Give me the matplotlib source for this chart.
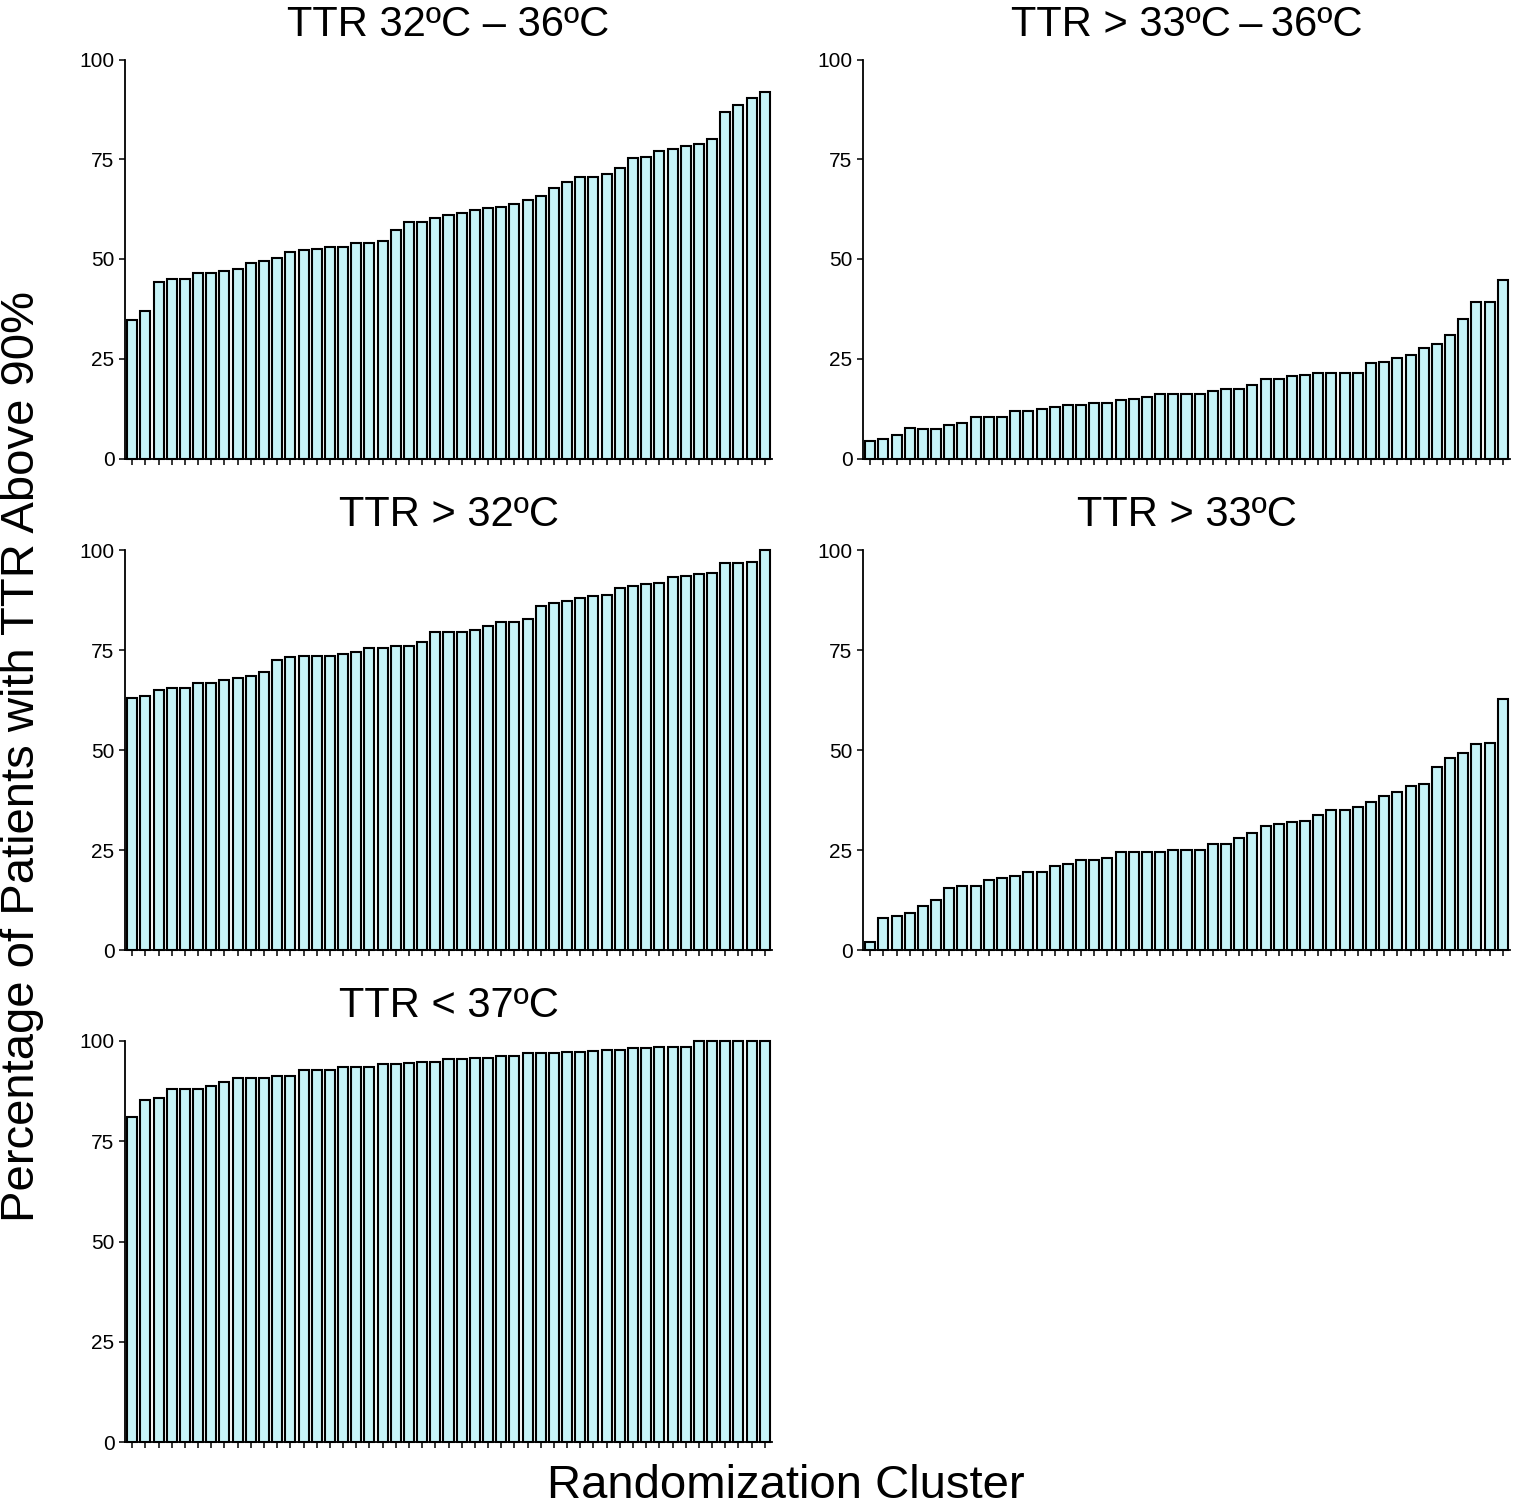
import matplotlib
matplotlib.use("Agg")
import matplotlib.pyplot as plt
import numpy as np

FIG_W = 1514
FIG_H = 1509
DPI = 100
FONT = "Liberation Sans"
BAR_FILL = "#C6F3F7"
TITLE_SIZE = 30
LABEL_SIZE = 34
TICK_SIZE = 15

titles = [
    "TTR 32ºC – 36ºC",
    "TTR > 33ºC\u2009–\u200936ºC",
    "TTR > 32ºC",
    "TTR > 33ºC",
    "TTR < 37ºC",
]

ttr_32_36 = [34.6, 37.0, 44.2, 44.9, 45.0, 46.6, 46.6, 47.0, 47.5, 49.1,
             49.6, 50.3, 51.8, 52.3, 52.4, 53.1, 53.1, 53.9, 53.9, 54.5,
             57.3, 59.3, 59.3, 60.2, 61.0, 61.6, 62.3, 62.8, 63.1, 63.8,
             64.9, 65.8, 67.7, 69.3, 70.6, 70.6, 71.4, 72.7, 75.2, 75.6,
             77.0, 77.6, 78.3, 78.7, 80.2, 86.8, 88.5, 90.3, 91.8]

ttr_gt33_36 = [4.3, 4.8, 5.8, 7.7, 7.5, 7.5, 8.3, 8.9, 10.3, 10.3,
               10.3, 11.8, 12.0, 12.3, 12.8, 13.3, 13.3, 13.9, 13.9, 14.6,
               14.9, 15.3, 16.2, 16.2, 16.2, 16.2, 16.8, 17.4, 17.4, 18.5,
               19.9, 19.9, 20.6, 21.0, 21.4, 21.4, 21.4, 21.5, 23.9, 24.3,
               25.2, 26.0, 27.7, 28.7, 31.0, 34.9, 39.1, 39.1, 44.8]

ttr_gt32 = [63.0, 63.6, 64.9, 65.5, 65.5, 66.8, 66.8, 67.4, 68.0, 68.4,
            69.4, 72.6, 73.2, 73.4, 73.4, 73.4, 74.0, 74.6, 75.5, 75.5,
            76.1, 76.1, 76.9, 79.6, 79.6, 79.6, 79.9, 81.0, 81.9, 81.9,
            82.7, 85.9, 86.7, 87.3, 88.0, 88.5, 88.8, 90.5, 91.0, 91.4,
            91.7, 93.3, 93.5, 93.9, 94.2, 96.7, 96.7, 97.1, 100.0]

ttr_gt33 = [1.9, 7.9, 8.4, 9.2, 11.0, 12.5, 15.6, 15.9, 15.9, 17.5,
            18.0, 18.5, 19.5, 19.5, 21.0, 21.6, 22.4, 22.4, 23.1, 24.4,
            24.4, 24.5, 24.5, 25.1, 25.1, 25.1, 26.6, 26.6, 27.9, 29.3,
            31.0, 31.4, 32.0, 32.2, 33.7, 34.9, 34.9, 35.7, 37.0, 38.5,
            39.6, 41.0, 41.4, 45.8, 48.1, 49.3, 51.5, 51.8, 62.8]

ttr_lt37 = [81.1, 85.3, 85.9, 88.0, 88.0, 88.0, 88.8, 89.9, 90.7, 90.7,
            90.7, 91.3, 91.3, 92.8, 92.8, 92.8, 93.6, 93.6, 93.6, 94.2,
            94.2, 94.4, 94.8, 94.8, 95.4, 95.4, 95.7, 95.7, 96.3, 96.3,
            96.9, 96.9, 97.0, 97.3, 97.3, 97.4, 97.8, 97.8, 98.2, 98.2,
            98.4, 98.4, 98.5, 100.0, 100.0, 100.0, 100.0, 100.0, 100.0]

y_ticks = [0, 25, 50, 75, 100]

# panel boxes in pixels: left, top (100 line), right, bottom (0 line)
PANEL_BOXES = [
    (125, 59.5, 772, 458.5),
    (863, 59.5, 1510, 458.5),
    (125, 550, 772, 950),
    (863, 550, 1510, 950),
    (125, 1041, 772, 1442),
]


def px_axes(fig, box):
    l, t, r, b = box
    return fig.add_axes([l / FIG_W, 1 - b / FIG_H, (r - l) / FIG_W, (b - t) / FIG_H])


def draw_panel(ax, values, title):
    x = np.arange(len(values))
    ax.bar(x, values, width=0.76, color=BAR_FILL, edgecolor="black",
           linewidth=1.5, clip_on=False, zorder=2)
    ax.set_xlim(-0.55, len(values) - 0.45)
    ax.set_ylim(0, 100)
    ax.set_xticks(x)
    ax.set_xticklabels([])
    ax.set_yticks(y_ticks)
    ax.set_yticklabels([str(v) for v in y_ticks], fontsize=TICK_SIZE, family=FONT)
    ax.tick_params(axis="both", direction="out", length=4.5, width=1.1, color="black")
    ax.tick_params(axis="y", pad=3)
    for side in ["top", "right"]:
        ax.spines[side].set_visible(False)
    for side in ["left", "bottom"]:
        ax.spines[side].set_linewidth(1.3)
        ax.spines[side].set_color("black")
    ax.set_title(title, fontsize=TITLE_SIZE, family=FONT, pad=17)


def main():
    fig = plt.figure(figsize=(FIG_W / DPI, FIG_H / DPI), dpi=DPI)
    series = [ttr_32_36, ttr_gt33_36, ttr_gt32, ttr_gt33, ttr_lt37]
    for box, values, title in zip(PANEL_BOXES, series, titles):
        ax = px_axes(fig, box)
        draw_panel(ax, values, title)

    fig.text(22 / FIG_W, 1 - 756 / FIG_H, "Percentage of Patients with TTR Above 90%",
             rotation=90, ha="center", va="center", fontsize=LABEL_SIZE, family=FONT)
    fig.text(786 / FIG_W, 1 - 1486 / FIG_H, "Randomization Cluster",
             ha="center", va="center", fontsize=LABEL_SIZE, family=FONT)
    fig.savefig("out.png", dpi=DPI)
    plt.close(fig)


if __name__ == "__main__":
    main()
